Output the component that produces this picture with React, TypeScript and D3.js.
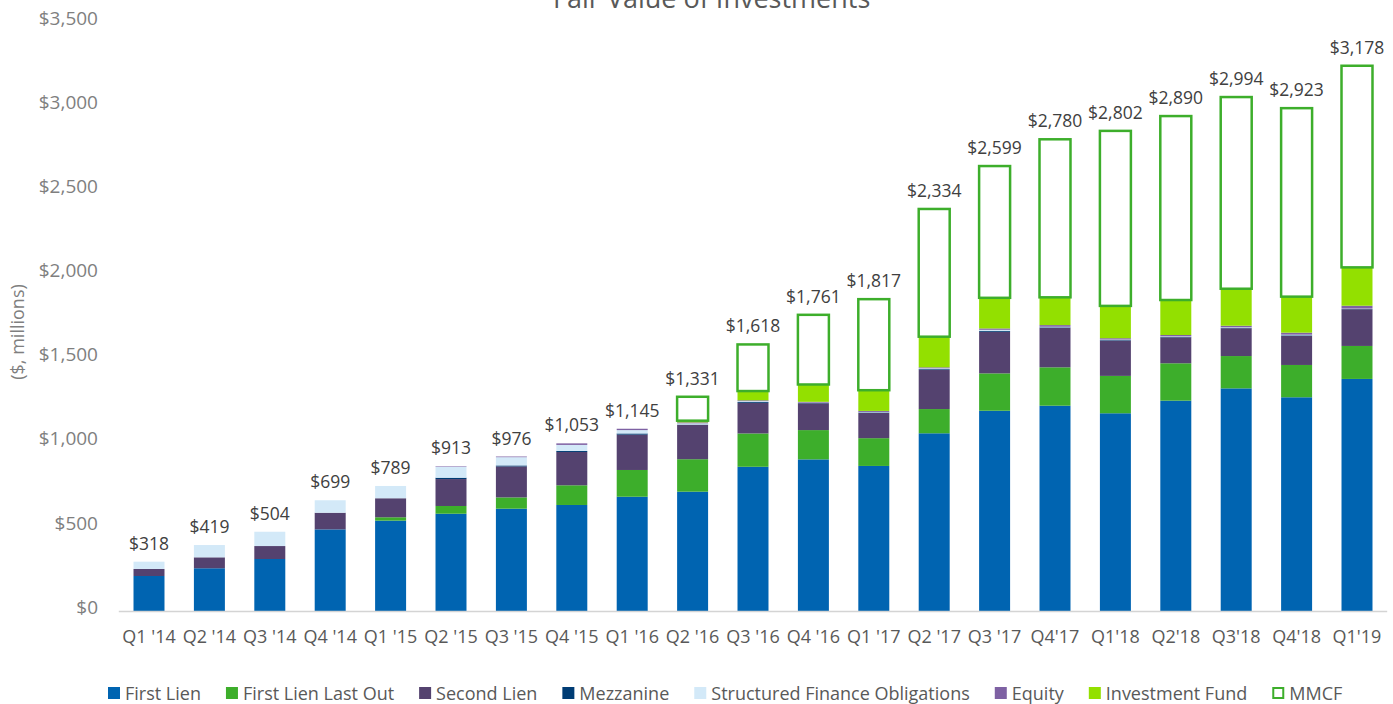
import React, { useEffect, useRef } from "react";
import * as d3 from "d3";

// Quarterly categories
const quarters = [
  "Q1 '14", "Q2 '14", "Q3 '14", "Q4 '14", "Q1 '15", "Q2 '15", "Q3 '15",
  "Q4 '15", "Q1 '16", "Q2 '16", "Q3 '16", "Q4 '16", "Q1 '17", "Q2 '17",
  "Q3 '17", "Q4'17", "Q1'18", "Q2'18", "Q3'18", "Q4'18", "Q1'19",
];

// Segment values ($, millions)
const firstLien = [208, 254, 309, 485, 537, 578, 608, 630, 679, 709, 857, 901, 862, 1056, 1190, 1220, 1175, 1250, 1323, 1270, 1379];
const firstLienLastOut = [0, 0, 0, 0, 20, 46, 67, 117, 159, 193, 198, 174, 165, 144, 222, 228, 222, 222, 192, 192, 196];
const secondLien = [42, 65, 77, 99, 113, 160, 184, 198, 210, 204, 182, 159, 150, 232, 247, 235, 210, 154, 165, 172, 218];
const mezzanine = [0, 0, 0, 0, 0, 8, 6, 6, 7, 2, 5, 2, 3, 5, 6, 3, 3, 3, 3, 4, 2];
const structuredFinance = [43, 73, 85, 74, 73, 65, 49, 36, 20, 7, 5, 2, 3, 5, 6, 3, 3, 3, 3, 4, 2];
const equity = [0, 0, 0, 0, 0, 3, 4, 9, 8, 6, 5, 5, 6, 6, 8, 10, 8, 8, 9, 12, 17];
const investmentFund = [0, 0, 0, 0, 0, 0, 0, 0, 0, 10, 55, 103, 123, 182, 182, 165, 192, 208, 220, 214, 228];
const mmcf = [0, 0, 0, 0, 0, 0, 0, 0, 0, 142, 277, 414, 541, 759, 783, 939, 1040, 1093, 1139, 1120, 1198];

// Total labels printed above bars
const totals = [318, 419, 504, 699, 789, 913, 976, 1053, 1145, 1331, 1618, 1761, 1817, 2334, 2599, 2780, 2802, 2890, 2994, 2923, 3178];

const yTicks = [0, 500, 1000, 1500, 2000, 2500, 3000, 3500];

const seriesNames = [
  "First Lien", "First Lien Last Out", "Second Lien", "Mezzanine",
  "Structured Finance Obligations", "Equity", "Investment Fund", "MMCF",
];
const seriesColors = [
  "#0064b1", "#3dae2b", "#54426f", "#003c74",
  "#d3e9f8", "#7e61a3", "#93e000", "#ffffff",
];
const seriesValues = [
  firstLien, firstLienLastOut, secondLien, mezzanine,
  structuredFinance, equity, investmentFund, mmcf,
];

const FONT = "'Open Sans', 'Noto Sans', sans-serif";
const MMCF_STROKE = "#3dae2b";

const App = () => {
  const svgRef = useRef<SVGSVGElement>(null);

  useEffect(() => {
    document.body.style.margin = "0";
    const svg = d3.select(svgRef.current);
    svg.selectAll("*").remove();

    const rows = quarters.map((q, i) => {
      const row: any = { quarter: q };
      seriesNames.forEach((name, s) => (row[name] = seriesValues[s][i]));
      return row;
    });

    const stacked = d3.stack().keys(seriesNames)(rows);

    const x = d3
      .scaleBand()
      .domain(quarters)
      .range([118.8, 1387.2])
      .paddingInner(0.487)
      .paddingOuter(0.2435);

    const y = d3.scaleLinear().domain([0, 3500]).range([611, 22]);

    // Title (cut off at the top, as in the source slide)
    const title = svg
      .append("text")
      .attr("x", 716)
      .attr("y", 8)
      .attr("text-anchor", "middle")
      .attr("font-family", FONT)
      .attr("font-size", "27px")
      .attr("fill", "#595959")
      .text("Fair Value of Investments");
    title
      .append("tspan")
      .attr("dy", "-9")
      .attr("font-size", "15px")
      .text("1");

    // Y axis labels
    svg
      .append("g")
      .selectAll("text")
      .data(yTicks)
      .enter()
      .append("text")
      .attr("x", 98)
      .attr("y", (d) => y(d) - 4)
      .attr("dy", "0.35em")
      .attr("text-anchor", "end")
      .attr("font-family", FONT)
      .attr("font-size", "19px")
      .attr("fill", "#7f7f7f")
      .text((d) => "$" + d3.format(",")(d));

    svg
      .append("text")
      .attr("transform", "translate(24,332) rotate(-90)")
      .attr("text-anchor", "middle")
      .attr("font-family", FONT)
      .attr("font-size", "18px")
      .attr("fill", "#7f7f7f")
      .text("($, millions)");

    // Bars
    const layers = svg
      .append("g")
      .selectAll("g")
      .data(stacked)
      .enter()
      .append("g")
      .attr("fill", (d, i) => seriesColors[i]);

    layers
      .selectAll("rect")
      .data((d) => d.map((p: any) => ({ p, key: d.key })))
      .enter()
      .filter((d: any) => d.p[1] - d.p[0] > 0)
      .append("rect")
      .attr("x", (d: any) => x(d.p.data.quarter)!)
      .attr("width", x.bandwidth())
      .attr("y", (d: any) => y(d.p[1]))
      .attr("height", (d: any) => y(d.p[0]) - y(d.p[1]))
      .attr("stroke", (d: any) => (d.key === "MMCF" ? MMCF_STROKE : "none"))
      .attr("stroke-width", (d: any) => (d.key === "MMCF" ? 2.5 : 0));

    // Baseline
    svg
      .append("line")
      .attr("x1", x.range()[0])
      .attr("x2", x.range()[1])
      .attr("y1", y(0) + 0.5)
      .attr("y2", y(0) + 0.5)
      .attr("stroke", "#d4d4d4")
      .attr("stroke-width", 1.5);

    // Total labels
    const top = stacked[stacked.length - 1];
    svg
      .append("g")
      .selectAll("text")
      .data(totals)
      .enter()
      .append("text")
      .attr("x", (d, i) => x(quarters[i])! + x.bandwidth() / 2)
      .attr("y", (d, i) => y(top[i][1]) - 12)
      .attr("text-anchor", "middle")
      .attr("font-family", FONT)
      .attr("font-size", "17.5px")
      .attr("fill", "#404040")
      .text((d) => "$" + d3.format(",")(d));

    // X labels
    svg
      .append("g")
      .selectAll("text")
      .data(quarters)
      .enter()
      .append("text")
      .attr("x", (d) => x(d)! + x.bandwidth() / 2)
      .attr("y", 643)
      .attr("text-anchor", "middle")
      .attr("font-family", FONT)
      .attr("font-size", "18px")
      .attr("fill", "#595959")
      .text((d) => d);

    // Legend
    const legend = svg.append("g").attr("transform", "translate(108, 693)");
    let lx = 0;
    seriesNames.forEach((name, i) => {
      const item = legend.append("g").attr("transform", `translate(${lx},0)`);
      const isBox = name === "MMCF";
      item
        .append("rect")
        .attr("x", isBox ? 1 : 0)
        .attr("y", isBox ? -5 : -6)
        .attr("width", isBox ? 10 : 12)
        .attr("height", isBox ? 10 : 12)
        .attr("fill", seriesColors[i])
        .attr("stroke", isBox ? MMCF_STROKE : "none")
        .attr("stroke-width", isBox ? 2 : 0);
      const t = item
        .append("text")
        .attr("x", 17)
        .attr("y", 6.5)
        .attr("font-family", FONT)
        .attr("font-size", "18px")
        .attr("fill", "#595959")
        .text(name);
      const w = (t.node() as SVGTextElement).getComputedTextLength();
      lx += 17 + w + 25;
    });
  }, []);

  return <svg ref={svgRef} width={1393} height={704} style={{ display: "block", background: "#fff" }} />;
};

export default App;
